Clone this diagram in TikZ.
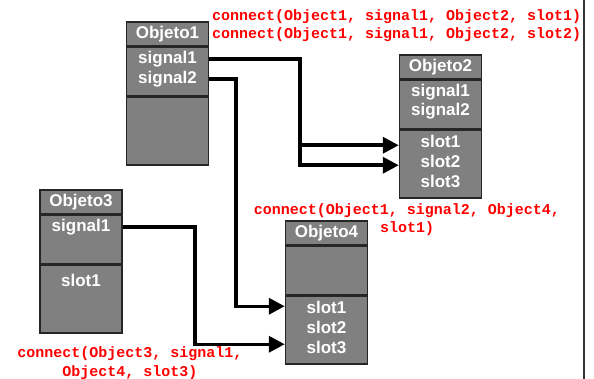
\documentclass[tikz,border=0pt]{standalone}
\usepackage{fontspec}
\setsansfont{Liberation Sans}
\setmonofont{Liberation Mono}
\usetikzlibrary{arrows.meta, positioning, calc}
\definecolor{boxgray}{RGB}{128,128,128}
\definecolor{msgred}{RGB}{255,0,0}

\begin{document}
\begin{tikzpicture}[
        x=1pt, y=-1pt,
        node distance=0pt,
        objpart/.style={draw=black!85, line width=1.5pt, fill=boxgray, minimum width=82pt, inner sep=0pt,
            text=white, font=\sffamily\bfseries\fontsize{17}{20}\selectfont},
        objhead/.style={objpart, minimum height=24pt},
        objsig/.style={objpart, minimum height=48pt},
        objslot/.style={objpart, minimum height=68pt},
        objtext/.style={text=white, font=\sffamily\bfseries\fontsize{17}{20}\selectfont, inner sep=0pt},
        msg/.style={text=msgred, font=\ttfamily\bfseries\fontsize{15}{18.5}\selectfont, inner sep=0pt},
        wire/.style={line width=3.5pt, -{Triangle[length=16pt, width=16pt]}}
    ]
        \useasboundingbox (0,0) rectangle (594,379);

        % objects: header, signals, slots
        \node[objhead] (obj1) at (167.5,34) {Objeto1};
        \node[objsig, below=of obj1] (obj1sig) {};
        \node[objslot, below=of obj1sig] (obj1slot) {};
        \node[objtext] (o1s1) at (167.5,59) {signal1};
        \node[objtext] (o1s2) at (167.5,79) {signal2};

        \node[objhead] (obj2) at (440.5,67) {Objeto2};
        \node[objsig, below=of obj2] (obj2sig) {};
        \node[objslot, below=of obj2sig] (obj2slot) {};
        \node[objtext] (o2s1) at (440.5,92) {signal1};
        \node[objtext] (o2s2) at (440.5,111) {signal2};
        \node[objtext] (o2t1) at (440.5,141) {slot1};
        \node[objtext] (o2t2) at (440.5,161) {slot2};
        \node[objtext] (o2t3) at (440.5,181) {slot3};

        \node[objhead] (obj3) at (81,202) {Objeto3};
        \node[objsig, below=of obj3] (obj3sig) {};
        \node[objslot, below=of obj3sig] (obj3slot) {};
        \node[objtext] (o3s1) at (81,227) {signal1};
        \node[objtext] (o3t1) at (81,280) {slot1};

        \node[objhead] (obj4) at (326.5,233) {Objeto4};
        \node[objsig, below=of obj4] (obj4sig) {};
        \node[objslot, below=of obj4sig] (obj4slot) {};
        \node[objtext] (o4t1) at (326.5,307) {slot1};
        \node[objtext] (o4t2) at (326.5,327) {slot2};
        \node[objtext] (o4t3) at (326.5,347) {slot3};

        % connections
        \coordinate (fork) at (300,0);
        \coordinate (drop) at (236,0);
        \coordinate (bend) at (195,0);
        \coordinate (o2in1) at ($(obj2slot.north west)+(0,16)$);
        \coordinate (o2in2) at ($(obj2slot.north west)+(0,36)$);
        \coordinate (o4in1) at ($(obj4slot.north west)+(0,11)$);
        \coordinate (o4in3) at ($(obj4slot.north west)+(0,49)$);
        \draw[wire] (o1s1 -| obj1sig.east) -| (fork |- o2in2) -- (o2in2);
        \draw[wire] (fork |- o2in1) -- (o2in1);
        \draw[wire] (o1s2 -| obj1sig.east) -| (drop |- o4in1) -- (o4in1);
        \draw[wire] (o3s1 -| obj3sig.east) -| (bend |- o4in3) -- (o4in3);

        % connect() calls
        \node[msg, anchor=west] (c1) at (212,17) {connect(Object1, signal1, Object2, slot1)};
        \node[msg, anchor=west] (c2) at (212,35) {connect(Object1, signal1, Object2, slot2)};
        \node[msg, align=center] (c3) at (407,219.5) {connect(Object1, signal2, Object4,\\slot1)};
        \node[msg, align=center] (c4) at (130,363) {connect(Object3, signal1,\\Object4, slot3)};

        \draw[line width=2pt, black!80] (584,0) -- (584,379);
    \end{tikzpicture}
\end{document}
